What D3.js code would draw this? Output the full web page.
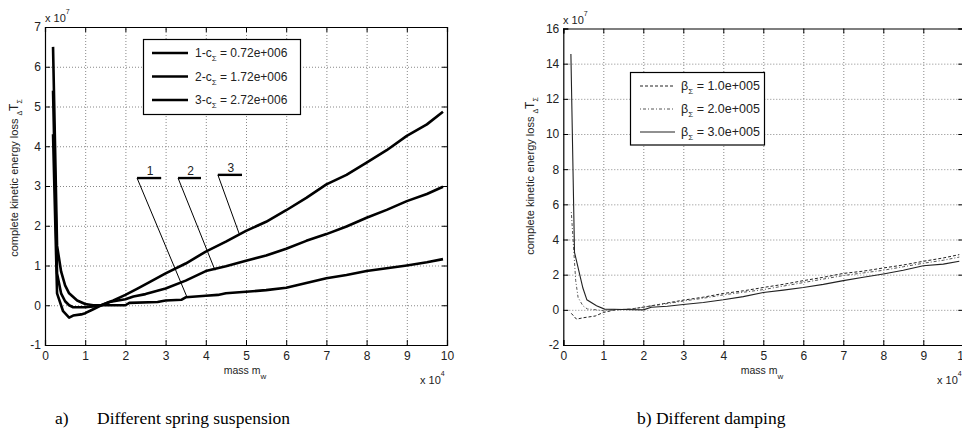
<!DOCTYPE html>
<html><head><meta charset="utf-8">
<script src="https://cdn.jsdelivr.net/npm/d3@7"></script>
<style>
html,body{margin:0;padding:0;background:#fff;}
svg{display:block;}
text{fill:#222;}
</style></head>
<body><svg id="c" width="962" height="432" font-family="Liberation Sans, Arial, sans-serif"></svg>
<script>
// ---------------- DATA ----------------
const xTickValues = [0,1,2,3,4,5,6,7,8,9,10];
const xTickLabels = ["0","1","2","3","4","5","6","7","8","9","10"];
const yTicksA = [-1,0,1,2,3,4,5,6,7];
const yTicksB = [-2,0,2,4,6,8,10,12,14,16];

// panel a: spring suspension (x in 1e4, y in 1e7)
const seriesA1 = [[0.2,6.5],[0.3,1.5],[0.4,0.85],[0.5,0.5],[0.6,0.3],[0.8,0.12],[1.0,0.03],[1.2,0.0],[2.0,0.0],[2.1,0.06],[2.8,0.08],[3.0,0.12],[3.4,0.14],[3.5,0.2],[4.0,0.24],[4.3,0.26],[4.5,0.3],[5.0,0.34],[5.5,0.38],[6.0,0.44],[6.5,0.56],[7.0,0.68],[7.5,0.76],[8.0,0.86],[8.5,0.93],[9.0,1.0],[9.5,1.08],[9.9,1.16]];
const seriesA2 = [[0.2,5.4],[0.3,0.8],[0.4,0.3],[0.5,0.1],[0.6,0.0],[0.7,-0.05],[1.0,-0.05],[1.2,-0.03],[1.4,0.0],[1.6,0.08],[2.0,0.15],[2.2,0.22],[2.5,0.28],[3.0,0.42],[3.5,0.62],[4.0,0.86],[4.5,0.98],[5.0,1.12],[5.5,1.25],[6.0,1.42],[6.5,1.62],[7.0,1.79],[7.5,1.98],[8.0,2.2],[8.5,2.4],[9.0,2.62],[9.5,2.8],[9.9,2.98]];
const seriesA3 = [[0.2,4.3],[0.3,0.3],[0.45,-0.15],[0.6,-0.31],[0.7,-0.26],[0.9,-0.23],[1.0,-0.2],[1.2,-0.1],[1.4,0.0],[1.7,0.12],[2.0,0.26],[2.3,0.42],[2.6,0.58],[3.0,0.8],[3.5,1.05],[4.0,1.35],[4.5,1.6],[5.0,1.87],[5.5,2.1],[6.0,2.39],[6.5,2.7],[7.0,3.04],[7.5,3.28],[8.0,3.59],[8.5,3.9],[9.0,4.26],[9.5,4.55],[9.9,4.87]];
const legendA = ["1-c","2-c","3-c"];
const legendAValues = ["0.72e+006","1.72e+006","2.72e+006"];
// annotation labels: [label, segStartX, segEndX, segY, leaderEndX, leaderEndY]
const annotA = [["1",2.29,2.89,3.2,3.53,0.21],["2",3.31,3.88,3.2,4.23,0.88],["3",4.30,4.90,3.28,4.83,1.8]];

// panel b: damping
const seriesB1 = [[0.2,-0.2],[0.33,-0.53],[0.5,-0.45],[0.8,-0.35],[1.0,-0.15],[1.3,0.0],[1.7,0.05],[2.0,0.15],[2.5,0.35],[3.0,0.55],[3.5,0.72],[4.0,0.93],[4.5,1.08],[5.0,1.27],[5.5,1.45],[6.0,1.66],[6.5,1.85],[7.0,2.07],[7.5,2.2],[8.0,2.38],[8.5,2.55],[9.0,2.76],[9.5,2.95],[9.9,3.14]];
const seriesB2 = [[0.2,5.56],[0.31,1.66],[0.37,0.7],[0.49,0.23],[0.6,0.05],[0.83,0.0],[1.0,-0.05],[1.3,0.0],[1.7,0.05],[2.0,0.15],[2.5,0.32],[3.0,0.5],[3.5,0.66],[4.0,0.85],[4.5,1.0],[5.0,1.15],[5.5,1.35],[6.0,1.55],[6.5,1.75],[7.0,1.95],[7.5,2.1],[8.0,2.25],[8.5,2.45],[9.0,2.65],[9.5,2.82],[9.9,3.0]];
const seriesB3 = [[0.19,14.55],[0.28,3.27],[0.49,1.24],[0.59,0.57],[0.83,0.23],[1.03,0.04],[1.5,0.02],[2.0,0.0],[2.2,0.15],[2.6,0.2],[3.0,0.3],[3.5,0.42],[4.0,0.57],[4.5,0.75],[5.0,0.99],[5.5,1.12],[6.0,1.27],[6.5,1.45],[7.0,1.66],[7.5,1.85],[8.0,2.04],[8.5,2.25],[9.0,2.51],[9.5,2.6],[9.9,2.76]];
const legendB = ["= 1.0e+005","= 2.0e+005","= 3.0e+005"];

// ---------------- DRAW ----------------
const svg = d3.select("#c");
const SANS = "Liberation Sans, Arial, sans-serif";
const SERIF = "Liberation Serif, Times New Roman, serif";

function panel(cfg){
  const g = svg.append("g");
  const x = d3.scaleLinear().domain([0,10]).range([cfg.x0,cfg.x1]);
  const y = d3.scaleLinear().domain(cfg.ydom).range([cfg.y1,cfg.y0]);
  g.append("g").attr("transform",`translate(0,${cfg.y1})`)
    .call(d3.axisBottom(x).tickValues(xTickValues.slice(1,-1)).tickSize(-(cfg.y1-cfg.y0)).tickFormat(""))
    .call(a=>{a.select(".domain").remove();a.selectAll("line").attr("stroke","#888").attr("stroke-dasharray","1,2");});
  g.append("g").attr("transform",`translate(${cfg.x0},0)`)
    .call(d3.axisLeft(y).tickValues(cfg.yticks.slice(1,-1)).tickSize(-(cfg.x1-cfg.x0)).tickFormat(""))
    .call(a=>{a.select(".domain").remove();a.selectAll("line").attr("stroke","#888").attr("stroke-dasharray","1,2");});
  const fmt = d=>xTickLabels[xTickValues.indexOf(d)];
  const ax = [];
  ax.push(g.append("g").attr("transform",`translate(0,${cfg.y1})`)
    .call(d3.axisBottom(x).tickValues(xTickValues).tickSize(-5).tickPadding(6).tickFormat(fmt)));
  ax.push(g.append("g").attr("transform",`translate(${cfg.x0},0)`)
    .call(d3.axisLeft(y).tickValues(cfg.yticks).tickSize(-5).tickPadding(4).tickFormat(d=>String(d))));
  ax.push(g.append("g").attr("transform",`translate(0,${cfg.y0})`)
    .call(d3.axisTop(x).tickValues(xTickValues).tickSize(-5).tickFormat("")));
  ax.push(g.append("g").attr("transform",`translate(${cfg.x1},0)`)
    .call(d3.axisRight(y).tickValues(cfg.yticks).tickSize(-5).tickFormat("")));
  ax.forEach(a=>{
    a.attr("font-family",SANS).attr("font-size",12);
    a.selectAll("text").attr("fill","#222");
    a.select(".domain").attr("stroke","#000").attr("stroke-width",1.2);
    a.selectAll(".tick line").attr("stroke","#000");
  });
  return {g,x,y};
}

// ----- panel a -----
const A = panel({x0:45,x1:447,y0:27,y1:345,ydom:[-1,7],yticks:yTicksA});
const lineA = d3.line().x(d=>A.x(d[0])).y(d=>A.y(d[1]));
[seriesA1,seriesA2,seriesA3].forEach(s=>{
  A.g.append("path").datum(s).attr("d",lineA).attr("fill","none").attr("stroke","#000").attr("stroke-width",2.6).attr("stroke-linejoin","round");
});
annotA.forEach(a=>{
  A.g.append("line").attr("x1",A.x(a[1])).attr("x2",A.x(a[2])).attr("y1",A.y(a[3])).attr("y2",A.y(a[3])).attr("stroke","#000").attr("stroke-width",2.4);
  A.g.append("line").attr("x1",A.x(a[1])).attr("y1",A.y(a[3])).attr("x2",A.x(a[4])).attr("y2",A.y(a[5])).attr("stroke","#000").attr("stroke-width",1);
  A.g.append("text").attr("x",(A.x(a[1])+A.x(a[2]))/2+1).attr("y",A.y(a[3])-3).attr("text-anchor","middle").attr("font-size",12).text(a[0]);
});
A.g.append("rect").attr("x",143.5).attr("y",39.5).attr("width",157).attr("height",75).attr("fill","#fff").attr("stroke","#000").attr("stroke-width",1.2);
legendA.forEach((t,i)=>{
  const yy = 53+i*23.5;
  A.g.append("line").attr("x1",152).attr("x2",188).attr("y1",yy).attr("y2",yy).attr("stroke","#000").attr("stroke-width",2.6);
  const tx = A.g.append("text").attr("x",195).attr("y",yy+4).attr("font-size",12);
  tx.append("tspan").text(t);
  tx.append("tspan").attr("font-size",8).attr("dy",4).text("Σ");
  tx.append("tspan").attr("dy",-4).text(" = "+legendAValues[i]);
});

// ----- panel b -----
const B = panel({x0:563.3,x1:963.3,y0:28.5,y1:345,ydom:[-2,16],yticks:yTicksB});
const lineB = d3.line().x(d=>B.x(d[0])).y(d=>B.y(d[1]));
const stylesB = [{c:"#222",w:1,da:"3,2"},{c:"#555",w:1,da:"1,2,3,2"},{c:"#222",w:1.1,da:null}];
[seriesB1,seriesB2,seriesB3].forEach((s,i)=>{
  B.g.append("path").datum(s).attr("d",lineB).attr("fill","none").attr("stroke",stylesB[i].c).attr("stroke-width",stylesB[i].w).attr("stroke-dasharray",stylesB[i].da);
});
B.g.append("rect").attr("x",630.5).attr("y",72.5).attr("width",134).attr("height",72.5).attr("fill","#fff").attr("stroke","#000").attr("stroke-width",1.2);
legendB.forEach((t,i)=>{
  const yy = 86+i*23;
  B.g.append("line").attr("x1",640).attr("x2",675).attr("y1",yy).attr("y2",yy).attr("stroke",stylesB[i].c).attr("stroke-width",stylesB[i].w).attr("stroke-dasharray",stylesB[i].da);
  const tx = B.g.append("text").attr("x",681).attr("y",yy+4).attr("font-size",12.5);
  tx.append("tspan").text("β");
  tx.append("tspan").attr("font-size",8).attr("dy",4).text("Σ");
  tx.append("tspan").attr("dy",-4).text(" "+t);
});

// ----- shared texts -----
function ylabel(xc, yc){
  const t = svg.append("text").attr("transform",`translate(${xc},${yc}) rotate(-90)`).attr("text-anchor","middle").attr("font-size",11);
  t.append("tspan").text("complete kinetic energy loss   ");
  t.append("tspan").attr("font-size",7).attr("dy",4).text("Δ");
  t.append("tspan").attr("dy",-4).attr("font-size",12).text("T");
  t.append("tspan").attr("font-size",7).attr("dy",4).text("Σ");
}
ylabel(18,178);
ylabel(534,176);

function xlabel(xc, yc){
  const t = svg.append("text").attr("x",xc).attr("y",yc).attr("text-anchor","middle").attr("font-size",10.5);
  t.append("tspan").text("mass m");
  t.append("tspan").attr("font-size",8).attr("dy",5).text("w");
}
xlabel(245,374);
xlabel(762,374);

function expo(xs, ys, p){
  const t = svg.append("text").attr("x",xs).attr("y",ys).attr("font-size",11);
  t.append("tspan").text("x  10");
  t.append("tspan").attr("font-size",7).attr("dy",-8).text(p);
}
expo(45,22,"7");
expo(563,24,"7");
expo(420,384,"4");
expo(937,384,"4");

// captions
function cap(x, s){
  svg.append("text").attr("x",x).attr("y",424).attr("font-family",SERIF).attr("font-size",17.5).attr("fill","#000").style("fill","#000").text(s);
}
cap(55,"a)");
cap(97,"Different spring suspension");
cap(637,"b) Different damping");
</script></body></html>
